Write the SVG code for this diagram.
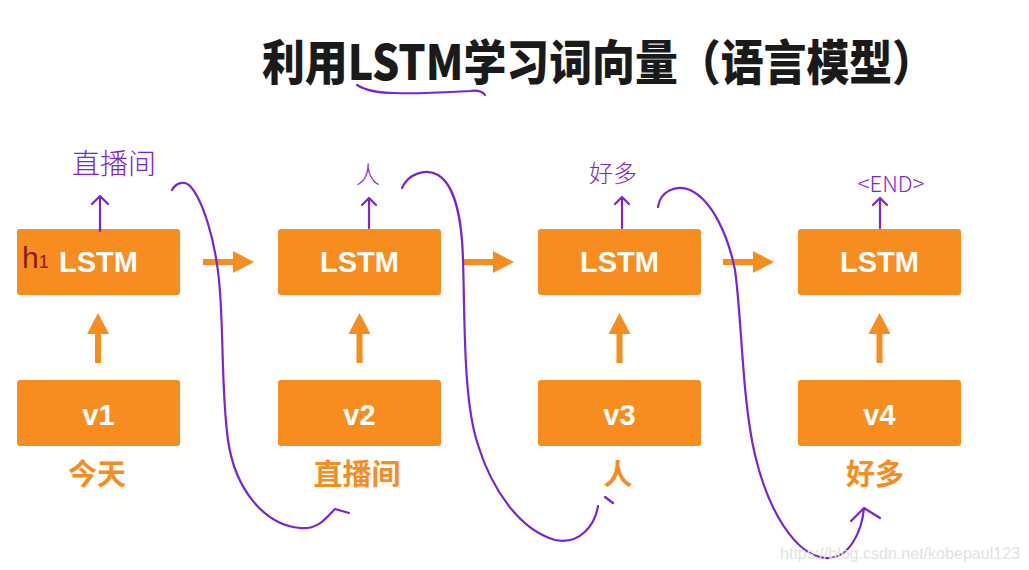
<svg xmlns="http://www.w3.org/2000/svg" width="1029" height="570" viewBox="0 0 1029 570">
<style>
.box{fill:#F68D1E;}
.lbl{font-family:"Liberation Sans",Arial,sans-serif;font-weight:bold;fill:#fff;text-anchor:middle;}
.word{font-family:"Noto Sans CJK SC",sans-serif;font-weight:700;fill:#F68D1E;text-anchor:middle;font-size:29px;}
.hand{font-family:"Noto Sans CJK SC",sans-serif;font-weight:300;fill:#7A24D6;text-anchor:middle;}
.pen{fill:none;stroke:#7A24D6;stroke-width:2.2;stroke-linecap:round;stroke-linejoin:round;}
.oarr{fill:#F68D1E;}
</style>
<rect width="1029" height="570" fill="#fff"/>
<g id="title">
<text x="262" y="80" font-family="Noto Sans CJK SC,sans-serif" font-weight="900" font-size="48" fill="#1a1a1a" textLength="673" lengthAdjust="spacingAndGlyphs">利用LSTM学习词向量（语言模型）</text>
<path class="pen" d="M357,85 C365,90 375,93 395,93 C420,94 450,92 470,91 C478,90 483,92 485,95"/>
</g>
<g id="lstm1"><rect class="box" x="17" y="229" width="163" height="66" rx="3"/><text class="lbl" x="98.5" y="272" font-size="29">LSTM</text>
<text x="22" y="268" font-family="Liberation Sans,sans-serif" font-size="30" fill="#8a1c1c">h<tspan font-size="18">1</tspan></text></g>
<g id="lstm2"><rect class="box" x="278" y="229" width="163" height="66" rx="3"/><text class="lbl" x="359.5" y="272" font-size="29">LSTM</text></g>
<g id="lstm3"><rect class="box" x="538" y="229" width="163" height="66" rx="3"/><text class="lbl" x="619.5" y="272" font-size="29">LSTM</text></g>
<g id="lstm4"><rect class="box" x="798" y="229" width="163" height="66" rx="3"/><text class="lbl" x="879.5" y="272" font-size="29">LSTM</text></g>
<g id="v1"><rect class="box" x="17" y="380" width="163" height="66" rx="3"/><text class="lbl" x="98.5" y="425" font-size="29">v1</text><text class="word" x="97" y="485">今天</text></g>
<g id="v2"><rect class="box" x="278" y="380" width="163" height="66" rx="3"/><text class="lbl" x="359.5" y="425" font-size="29">v2</text><text class="word" x="357" y="485">直播间</text></g>
<g id="v3"><rect class="box" x="538" y="380" width="163" height="66" rx="3"/><text class="lbl" x="619.5" y="425" font-size="29">v3</text><text class="word" x="618" y="485">人</text></g>
<g id="v4"><rect class="box" x="798" y="380" width="163" height="66" rx="3"/><text class="lbl" x="879.5" y="425" font-size="29">v4</text><text class="word" x="875" y="485">好多</text></g>
<g id="outputs">
<text class="hand" x="114" y="174" font-size="28">直播间</text>
<text class="hand" x="368" y="183" font-size="24">人</text>
<text class="hand" x="613" y="182" font-size="24">好多</text>
<text class="hand" x="891" y="192" font-size="22">&lt;END&gt;</text>
</g>
<g id="connectors">
<g id="up-arrows">
<path class="oarr" d="M95,363 V334 H87 L98,313 L109,334 H101 V363 Z"/>
<path class="oarr" d="M356.5,363 V334 H348.5 L359.5,313 L370.5,334 H362.5 V363 Z"/>
<path class="oarr" d="M616.5,363 V334 H608.5 L619.5,313 L630.5,334 H622.5 V363 Z"/>
<path class="oarr" d="M876.5,363 V334 H868.5 L879.5,313 L890.5,334 H882.5 V363 Z"/>
</g>
<g id="h-arrows">
<path class="oarr" d="M203,259 H233 V251 L254,262 L233,273 V265 H203 Z"/>
<path class="oarr" d="M463,259 H493 V251 L514,262 L493,273 V265 H463 Z"/>
<path class="oarr" d="M723,259 H753 V251 L774,262 L753,273 V265 H723 Z"/>
</g>
<g id="pen-arrows">
<path class="pen" d="M100,231 V197 M92,204 L100,196 L108,204"/>
<path class="pen" d="M369,228 V199 M362,205 L369,198 L376,205"/>
<path class="pen" d="M622,228 V197 M615,204 L622,197 L629,204"/>
<path class="pen" d="M880,228 V199 M873,205 L880,198 L887,205"/>
</g>
<g id="loops">
<path class="pen" d="M172,190 C176,183 184,180 190,186 C203,200 215,240 219,280 C224,330 221,390 228,440 C235,490 265,525 300,528 C318,530 326,518 335,509 L349,513"/>
<path class="pen" d="M402,188 C408,174 425,168 438,175 C455,185 462,220 463,260 C465,320 463,400 478,445 C492,490 520,530 555,540 C580,545 595,525 598,506"/>
<path class="pen" d="M605,497 L613,503"/>
<path class="pen" d="M658,207 C660,192 675,184 690,190 C712,200 728,235 735,270 C742,320 742,400 755,455 C768,510 795,555 825,558 C850,560 862,530 864,508 M851,521 L864,508 L880,518"/>
</g>
</g>
<text x="780" y="559" font-family="Liberation Sans,sans-serif" font-size="16" fill="#e2e2e2" textLength="240" lengthAdjust="spacingAndGlyphs">https://blog.csdn.net/kobepaul123</text>
</svg>
